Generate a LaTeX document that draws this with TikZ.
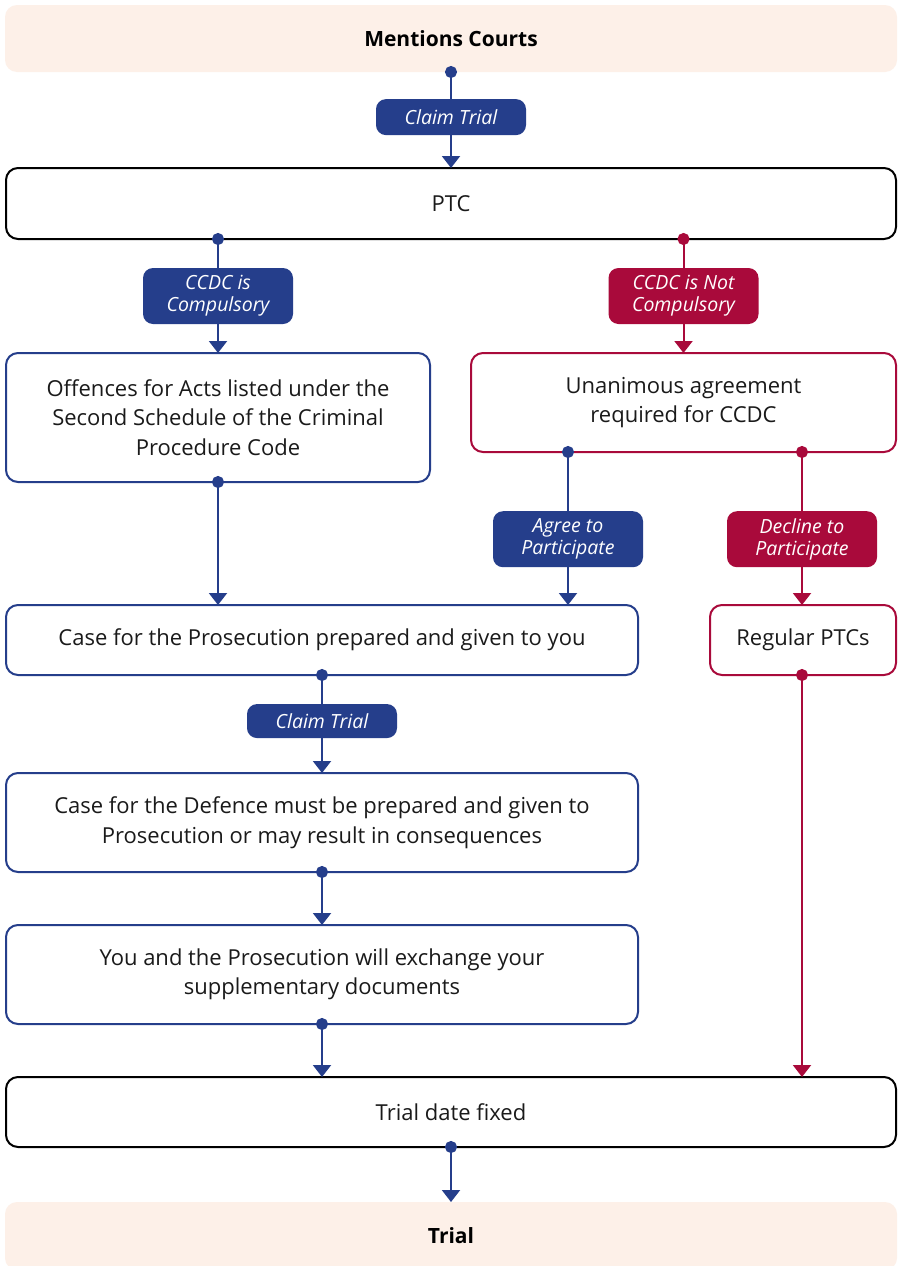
\documentclass[tikz,border=0pt]{standalone}
\usepackage{fontspec}
\setmainfont{Open Sans}
\usetikzlibrary{arrows.meta,calc}
\definecolor{cblue}{HTML}{253E8B}
\definecolor{cred}{HTML}{A90A3B}
\definecolor{peach}{HTML}{FDF0E8}
\definecolor{ink}{HTML}{1A1A1A}
\begin{document}
\begin{tikzpicture}[x=1pt,y=-1pt,
  box/.style={rounded corners=12pt, line width=2pt, fill=white, align=center,
    text=ink, font=\fontsize{22}{29.5}\selectfont, inner sep=0pt, outer sep=0pt},
  bbox/.style={box, draw=cblue},
  rbox/.style={box, draw=cred},
  kbox/.style={box, draw=black},
  term/.style={fill=peach, rounded corners=12pt, inner sep=0pt, outer sep=0pt,
    text=black, font=\bfseries\fontsize{21}{24}\selectfont},
  lab/.style={rounded corners=10pt, text=white, align=center, inner sep=0pt,
    minimum width=150pt, font=\itshape\fontsize{19.5}{22}\selectfont},
  bl/.style={lab, fill=cblue},
  rl/.style={lab, fill=cred},
  conn/.style={line width=2pt, shorten <=-6pt,
    {Circle[length=12pt]}-{Triangle[length=12pt,width=18pt]}},
  bconn/.style={conn, draw=cblue, fill=cblue},
  rconn/.style={conn, draw=cred, fill=cred}]
\useasboundingbox (0,0) rectangle (900,1266);
\fill[white] (0,0) rectangle (900,1266);

\node[term, minimum width=892pt, minimum height=67pt] (ment) at (451,38.5) {Mentions Courts};
\node[kbox, minimum width=890pt, minimum height=71pt] (ptc) at (451,203.5) {PTC};
\node[bbox, minimum width=424pt, minimum height=129pt] (off) at (218,417.5)
  {Offences for Acts listed under the\\Second Schedule of the Criminal\\Procedure Code};
\node[rbox, minimum width=425pt, minimum height=99pt] (un) at (683.5,402.5)
  {Unanimous agreement\\required for CCDC};
\node[bbox, minimum width=632pt, minimum height=70pt] (pros) at (322,640)
  {Case for the Prosecution prepared and given to you};
\node[rbox, minimum width=186pt, minimum height=70pt] (reg) at (803,640) {Regular PTCs};
\node[bbox, minimum width=632pt, minimum height=99pt] (def) at (322,822.5)
  {Case for the Defence must be prepared and given to\\Prosecution or may result in consequences};
\node[bbox, minimum width=632pt, minimum height=99pt] (exch) at (322,974.5)
  {You and the Prosecution will exchange your\\supplementary documents};
\node[kbox, minimum width=890pt, minimum height=70pt] (tdf) at (451,1112) {Trial date fixed};
\node[term, minimum width=892pt, minimum height=68pt] (trial) at (451,1236) {Trial};

\coordinate (uA) at (568,452);
\coordinate (uD) at (802,452);

\draw[bconn] (ment.south) -- node[bl, minimum height=36pt, pos=0.47] (l1) {Claim Trial} (ptc.north);
\draw[bconn] (ptc.south -| off.north) -- node[bl, minimum height=56pt] (l2) {CCDC is\\Compulsory} (off.north);
\draw[rconn] (ptc.south -| un.north) -- node[rl, minimum height=56pt] (l3) {CCDC is Not\\Compulsory} (un.north);
\draw[bconn] (off.south) -- (off.south |- pros.north);
\draw[bconn] (uA) -- node[bl, minimum height=56pt, pos=0.57] (l4) {Agree to\\Participate} (uA |- pros.north);
\draw[rconn] (uD) -- node[rl, minimum height=56pt, pos=0.57] (l5) {Decline to\\Participate} (uD |- reg.north);
\draw[bconn] (pros.south) -- node[bl, minimum height=34pt, pos=0.47] (l6) {Claim Trial} (def.north);
\draw[bconn] (def.south) -- (exch.north);
\draw[bconn] (exch.south) -- (exch.south |- tdf.north);
\draw[rconn] (uD |- reg.south) -- (uD |- tdf.north);
\draw[bconn] (tdf.south) -- (trial.north);
\end{tikzpicture}
\end{document}
